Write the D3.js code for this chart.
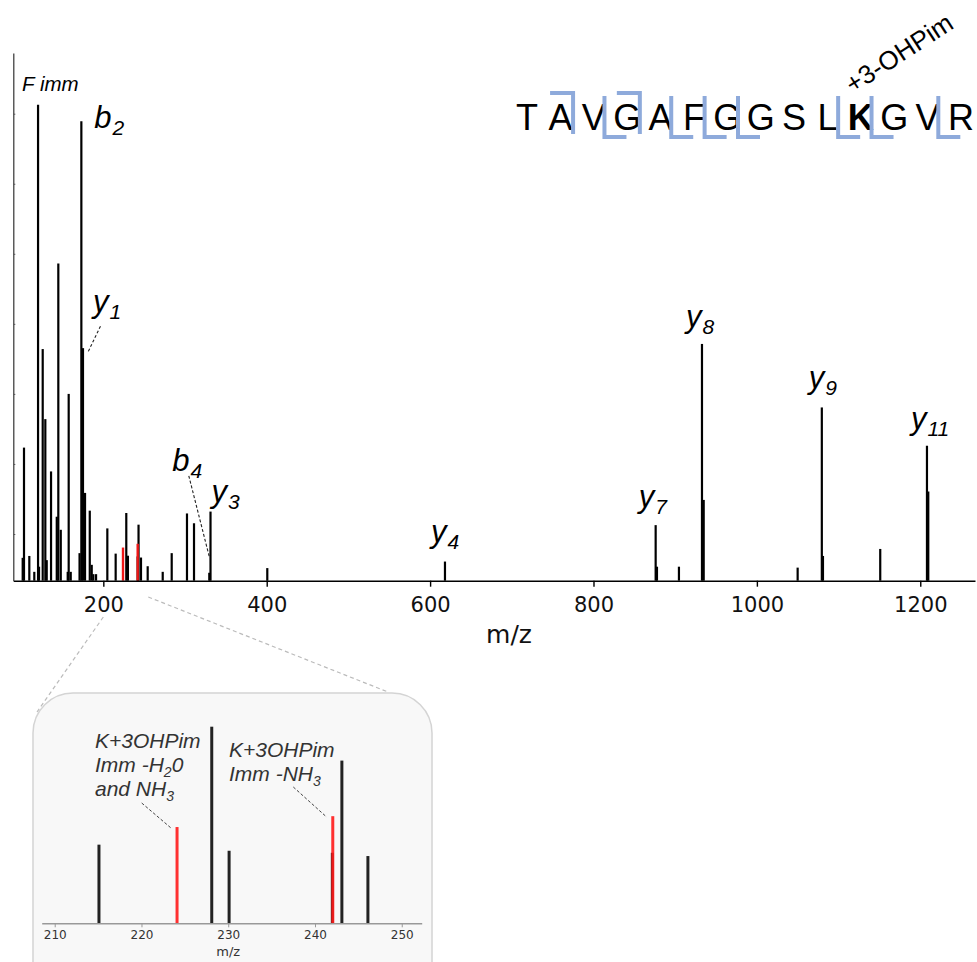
<!DOCTYPE html>
<html>
<head>
<meta charset="utf-8">
<script src="https://cdnjs.cloudflare.com/ajax/libs/d3/7.8.5/d3.min.js"></script>
<style>
  body { margin: 0; background: #fff; }
  svg { display: block; }
</style>
</head>
<body>
<div id="chart"></div>
<script>
const width = 977;
const height = 962;

// spectrum peaks (m/z, relative intensity)
const peakMz = [101.3, 102.9, 109.4, 115.5, 120.1, 121.3, 125.8, 129.0, 130.7, 136.0,
                143.0, 144.9, 147.9, 156.4, 157.6, 160.1, 170.9, 173.1, 175.1, 177.6,
                183.4, 185.8, 187.8, 191.1, 204.9, 215.1, 228.1, 230.1, 242.0, 243.1,
                246.1, 254.3, 272.7, 283.7, 302.4, 311.0, 329.7, 331.2, 400.7, 618.2,
                876.1, 877.7, 904.6, 932.8, 934.9, 1049.9, 1079.5, 1080.9, 1151.0, 1208.2,
                1209.8];
const peakInt = [4.9, 28.5, 5.3, 1.9, 101.9, 3.0, 49.6, 34.6, 4.4, 23.4,
                 13.7, 67.9, 10.9, 1.9, 40.0, 1.9, 5.9, 98.4, 49.8, 18.8,
                 15.0, 3.4, 1.4, 1.4, 11.2, 5.8, 14.5, 5.35, 5.2, 12.0,
                 4.96, 3.1, 1.9, 5.9, 14.4, 12.3, 1.7, 14.8, 2.7, 4.1,
                 11.9, 3.0, 3.0, 50.7, 17.3, 2.8, 37.1, 5.3, 6.8, 28.9,
                 19.1];
// lysine +3-OHPim immonium related ions (red)
const redMz = [224.1, 242.05];
const redInt = [7.1, 7.9];

const xTicks = [200, 400, 600, 800, 1000, 1200];
const yTicks = [10, 25, 40, 55, 70, 85, 100];
const insetTicks = [210, 220, 230, 240, 250];

// annotated fragments
const labelIon = ["b", "y", "b", "y", "y", "y", "y", "y", "y"];
const labelNum = ["2", "1", "4", "3", "4", "7", "8", "9", "11"];
const labelMz  = [173.1, 175.1, 329.7, 331.2, 618.2, 876.1, 932.8, 1079.5, 1208.2];

const sequence = ["T", "A", "V", "G", "A", "F", "G", "G", "S", "L", "K", "G", "V", "R"];
const bIons = [2, 4];
const yIons = [1, 3, 4, 7, 8, 9, 11];
const modSite = 10;

const svg = d3.select("#chart")
              .append("svg")
              .attr("width", width)
              .attr("height", height)

const x = d3.scaleLinear()
            .domain([89.8, 1267])
            .range([13.3, 975])
const y = d3.scaleLinear()
            .domain([0, 113])
            .range([580.7, 53])

const peaks = peakMz.map((m, i) => ({mz: m, v: peakInt[i]}))
const reds = redMz.map((m, i) => ({mz: m, v: redInt[i]}))

// ---- main spectrum ----
svg.append("g")
   .selectAll("line")
   .data(peaks)
   .enter()
   .append("line")
   .attr("x1", d => x(d.mz))
   .attr("x2", d => x(d.mz))
   .attr("y1", y(0))
   .attr("y2", d => y(d.v))
   .attr("stroke", "#000")
   .attr("stroke-width", 2.2)

svg.append("g")
   .selectAll("line")
   .data(reds)
   .enter()
   .append("line")
   .attr("x1", d => x(d.mz))
   .attr("x2", d => x(d.mz))
   .attr("y1", y(0))
   .attr("y2", d => y(d.v))
   .attr("stroke", "#f01818")
   .attr("stroke-width", 2.4)

const xAxis = svg.append("g")
                 .attr("transform", `translate(0,${y(0)})`)
                 .call(d3.axisBottom(x).tickValues(xTicks).tickFormat(d3.format("d"))
                         .tickSize(6).tickSizeOuter(0).tickPadding(10))
xAxis.select(".domain").attr("stroke-width", 1.6)
xAxis.selectAll(".tick line").attr("stroke-width", 1.4)
xAxis.selectAll("text")
     .attr("font-family", "DejaVu Sans")
     .attr("font-size", 21)
     .attr("fill", "#111")

const yAxis = svg.append("g")
                 .attr("transform", `translate(${x.range()[0]},0)`)
                 .call(d3.axisLeft(y).tickValues(yTicks).tickSize(-2).tickSizeOuter(0).tickFormat(""))
yAxis.select(".domain").attr("stroke", "#333").attr("stroke-width", 1.2)
yAxis.selectAll(".tick line").attr("stroke", "#555")

svg.append("text")
   .attr("x", 509)
   .attr("y", 643)
   .attr("text-anchor", "middle")
   .attr("font-family", "DejaVu Sans")
   .attr("font-size", 25)
   .attr("fill", "#111")
   .text("m/z")

// ---- peak labels ----
const labelFont = "Liberation Sans"
const labelOffset = {
  "b2": [13, 7], "y1": [10, -36], "b4": [-37, -102], "y3": [1, -10], "y4": [-14, -20],
  "y7": [-17, -18], "y8": [-16, -17], "y9": [-13, -19], "y11": [-16, -17]
}

const labels = labelIon.map((ion, i) => {
  const p = peaks.find(d => d.mz === labelMz[i])
  return {ion: ion, num: labelNum[i], mz: p.mz, v: p.v}
})

const lab = svg.append("g")
               .selectAll("text")
               .data(labels)
               .enter()
               .append("text")
               .attr("x", d => x(d.mz) + labelOffset[d.ion + d.num][0])
               .attr("y", d => y(d.v) + labelOffset[d.ion + d.num][1])
               .attr("font-family", labelFont)
               .attr("font-style", "italic")
               .attr("font-size", 31)
               .attr("fill", "#000")
lab.append("tspan").text(d => d.ion)
lab.append("tspan")
   .attr("font-size", 21)
   .attr("dy", 7)
   .attr("dx", 1)
   .text(d => d.num)

// F immonium
const fimm = peaks.find(d => d.mz === 120.1)
svg.append("text")
   .attr("x", x(fimm.mz) - 16)
   .attr("y", y(fimm.v) - 14)
   .attr("font-family", labelFont)
   .attr("font-style", "italic")
   .attr("font-size", 20.5)
   .text("F imm")

// leader lines for crowded labels
const leader = (mz, a, b) => {
  const p = peaks.find(d => d.mz === mz)
  svg.append("line")
     .attr("x1", x(p.mz) + a[0]).attr("y1", y(p.v) + a[1])
     .attr("x2", x(p.mz) + b[0]).attr("y2", y(p.v) + b[1])
     .attr("stroke", "#222")
     .attr("stroke-width", 1.1)
     .attr("stroke-dasharray", "3,2")
}
leader(175.1, [17.5, -22], [4.5, 5])
leader(329.7, [-20.5, -97], [0, -16])

// ---- peptide sequence ----
const seqX = d3.scalePoint()
               .domain(d3.range(sequence.length))
               .range([527, 961])
const step = seqX.step()
const seqY = 130
const blue = "#8eaadb"

svg.append("g")
   .selectAll("text")
   .data(sequence)
   .enter()
   .append("text")
   .attr("x", (d, i) => seqX(i))
   .attr("y", seqY)
   .attr("text-anchor", "middle")
   .attr("font-family", "Liberation Sans")
   .attr("font-size", 36)
   .attr("font-weight", (d, i) => i === modSite ? "bold" : "normal")
   .text(d => d)

// b ion brackets (top, hook to the left)
svg.append("g")
   .selectAll("path")
   .data(bIons)
   .enter()
   .append("path")
   .attr("d", n => {
     const bx = seqX(n - 1) + step / 2 - 4
     return `M${bx - 23},${seqY - 37} H${bx} V${seqY + 4}`
   })
   .attr("fill", "none")
   .attr("stroke", blue)
   .attr("stroke-width", 4)

// y ion brackets (bottom, hook to the right)
svg.append("g")
   .selectAll("path")
   .data(yIons)
   .enter()
   .append("path")
   .attr("d", n => {
     const bx = seqX(sequence.length - n - 1) + step / 2 - 6
     return `M${bx},${seqY - 34} V${seqY + 7} H${bx + 22}`
   })
   .attr("fill", "none")
   .attr("stroke", blue)
   .attr("stroke-width", 4)

svg.append("text")
   .attr("transform", `translate(${seqX(modSite) - 8},${seqY - 36}) rotate(-33)`)
   .attr("font-family", "Liberation Sans")
   .attr("font-size", 26)
   .text("+3-OHPim")

// ---- zoom inset ----
const zoomFrom = [200, 255]
const box = {x: 33, y: 693, w: 399, h: 320}

svg.append("line")
   .attr("x1", x(zoomFrom[0])).attr("y1", 617)
   .attr("x2", box.x + 4).attr("y2", 712)
   .attr("stroke", "#bbb").attr("stroke-width", 1.2).attr("stroke-dasharray", "4,3")
svg.append("line")
   .attr("x1", x(zoomFrom[1])).attr("y1", 597)
   .attr("x2", box.x + box.w - 44).attr("y2", 692)
   .attr("stroke", "#bbb").attr("stroke-width", 1.2).attr("stroke-dasharray", "4,3")

svg.append("rect")
   .attr("x", box.x)
   .attr("y", box.y)
   .attr("width", box.w)
   .attr("height", box.h)
   .attr("rx", 40)
   .attr("fill", "#f8f8f8")
   .attr("stroke", "#d4d4d4")
   .attr("stroke-width", 1.5)

const ix = d3.scaleLinear()
             .domain([208.5, 252.3])
             .range([41.7, 421.7])
const iy = d3.scaleLinear()
             .domain([0, 17])
             .range([923.3, 692.8])

const inPeaks = peaks.filter(d => d.mz > ix.domain()[0] && d.mz < ix.domain()[1])

svg.append("g")
   .selectAll("line")
   .data(inPeaks)
   .enter()
   .append("line")
   .attr("x1", d => ix(d.mz))
   .attr("x2", d => ix(d.mz))
   .attr("y1", iy(0))
   .attr("y2", d => iy(d.v))
   .attr("stroke", "#222")
   .attr("stroke-width", 3)

svg.append("g")
   .selectAll("line")
   .data(reds)
   .enter()
   .append("line")
   .attr("x1", d => ix(d.mz))
   .attr("x2", d => ix(d.mz))
   .attr("y1", iy(0))
   .attr("y2", d => iy(d.v))
   .attr("stroke", "#ff1a1a")
   .attr("stroke-opacity", 0.9)
   .attr("stroke-width", 3)

const inAxis = svg.append("g")
                  .attr("transform", `translate(0,${iy(0)})`)
                  .call(d3.axisBottom(ix).tickValues(insetTicks).tickSize(4).tickSizeOuter(0).tickPadding(3))
inAxis.select(".domain").attr("stroke", "#999").attr("stroke-width", 1.5)
inAxis.selectAll(".tick line").attr("stroke", "#999")
inAxis.selectAll("text")
      .attr("font-family", "DejaVu Sans")
      .attr("font-size", 12)
      .attr("fill", "#333")

svg.append("text")
   .attr("x", ix(230))
   .attr("y", 956)
   .attr("text-anchor", "middle")
   .attr("font-family", "DejaVu Sans")
   .attr("font-size", 13)
   .attr("fill", "#333")
   .text("m/z")

// inset annotations
const note = (x0, y0, lines) => {
  const t = svg.append("text")
               .attr("font-family", labelFont)
               .attr("font-style", "italic")
               .attr("font-size", 21)
               .attr("fill", "#333")
  lines.forEach((parts, i) => {
    parts.forEach((p, j) => {
      const s = t.append("tspan").text(p[0])
      if (j === 0) s.attr("x", x0).attr("y", y0 + i * 24)
      if (p[1] === "sub") s.attr("font-size", 14).attr("dy", 5)
      if (p[1] === "back") s.attr("dy", -5)
    })
  })
}
note(95, 748, [[["K+3OHPim"]], [["Imm -H"], ["2", "sub"], ["0", "back"]], [["and NH"], ["3", "sub"]]])
note(229, 757, [[["K+3OHPim"]], [["Imm -NH"], ["3", "sub"]]])

const inLeader = (mz, a) => {
  const r = reds.find(d => d.mz === mz)
  svg.append("line")
     .attr("x1", a[0]).attr("y1", a[1])
     .attr("x2", ix(r.mz) - 6).attr("y2", iy(r.v) + 1)
     .attr("stroke", "#444")
     .attr("stroke-width", 1)
     .attr("stroke-dasharray", "3,2")
}
inLeader(224.1, [141.7, 803])
inLeader(242.05, [293.3, 787])
</script>
</body>
</html>
